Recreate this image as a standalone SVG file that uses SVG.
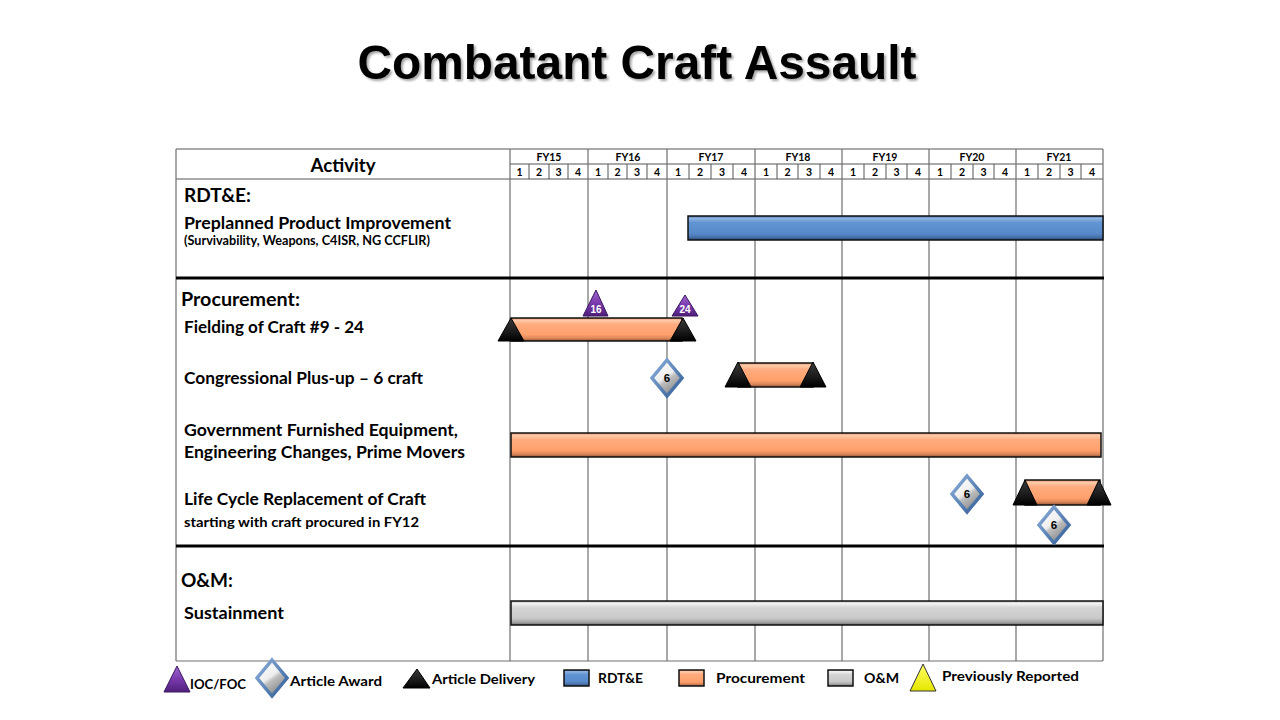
<svg xmlns="http://www.w3.org/2000/svg" width="1280" height="720" viewBox="0 0 1280 720">
<defs>
<style>
.t{font-family:"Lato","Liberation Sans",sans-serif;font-weight:bold;fill:#000}
.hd{font-size:10.5px;text-anchor:middle}
.sec{font-size:19px}
.act{font-size:17.5px}
.lg{font-size:14px}
.grid{stroke:#6f6f6f;stroke-width:1.2;fill:none}
.hline{stroke:#555;stroke-width:1;fill:none}
.thick{stroke:#000;stroke-width:3}
.bar{stroke:#111;stroke-width:1.5}
.blk{fill:url(#gBlack);stroke:#000;stroke-width:1}
.pur{fill:url(#gPurple);stroke:#3a1660;stroke-width:1}
.num{font-family:"Liberation Sans",sans-serif;font-weight:bold;font-size:10px;text-anchor:middle}
.dnum{font-family:"Liberation Sans",sans-serif;font-weight:bold;font-size:11.5px;text-anchor:middle;fill:#000}
</style>
<linearGradient id="gOrange" x1="0" y1="0" x2="0" y2="1">
<stop offset="0" stop-color="#e0906a"/><stop offset="0.1" stop-color="#ffcaa9"/><stop offset="0.28" stop-color="#ffab7e"/><stop offset="0.72" stop-color="#ffa06c"/><stop offset="0.88" stop-color="#dc875a"/><stop offset="1" stop-color="#8e5232"/>
</linearGradient>
<linearGradient id="gBlue" x1="0" y1="0" x2="0" y2="1">
<stop offset="0" stop-color="#4a79b3"/><stop offset="0.1" stop-color="#8fb3e0"/><stop offset="0.28" stop-color="#6194d2"/><stop offset="0.72" stop-color="#588acb"/><stop offset="0.88" stop-color="#4873aa"/><stop offset="1" stop-color="#2a4a74"/>
</linearGradient>
<linearGradient id="gGray" x1="0" y1="0" x2="0" y2="1">
<stop offset="0" stop-color="#b0b0b0"/><stop offset="0.1" stop-color="#f4f4f4"/><stop offset="0.28" stop-color="#d4d4d4"/><stop offset="0.72" stop-color="#c9c9c9"/><stop offset="0.88" stop-color="#a6a6a6"/><stop offset="1" stop-color="#6a6a6a"/>
</linearGradient>
<linearGradient id="gBlack" x1="0" y1="0" x2="0" y2="1">
<stop offset="0" stop-color="#3c3c3c"/><stop offset="0.6" stop-color="#1a1a1a"/><stop offset="1" stop-color="#000"/>
</linearGradient>
<linearGradient id="gPurple" x1="0" y1="0" x2="0" y2="1">
<stop offset="0" stop-color="#a06ad0"/><stop offset="0.5" stop-color="#7a3aae"/><stop offset="1" stop-color="#4f1f7a"/>
</linearGradient>
<linearGradient id="gYellow" x1="0" y1="0" x2="0" y2="1">
<stop offset="0" stop-color="#ffff66"/><stop offset="1" stop-color="#e6e600"/>
</linearGradient>
<linearGradient id="gDiaFill" x1="0.2" y1="0" x2="0.8" y2="1">
<stop offset="0" stop-color="#ffffff"/><stop offset="0.45" stop-color="#eeeeee"/><stop offset="0.55" stop-color="#bdbdbd"/><stop offset="1" stop-color="#7a7a7a"/>
</linearGradient>
<linearGradient id="gDiaStroke" x1="0" y1="0" x2="1" y2="1">
<stop offset="0" stop-color="#8fb1dc"/><stop offset="1" stop-color="#2f5c95"/>
</linearGradient>
<polygon id="dia" points="0,-18 15,0 0,18 -15,0" fill="url(#gDiaFill)" stroke="url(#gDiaStroke)" stroke-width="3.5" stroke-linejoin="miter"/>
<filter id="shadow" x="-5%" y="-20%" width="110%" height="150%">
<feDropShadow dx="2" dy="2" stdDeviation="1" flood-color="#000" flood-opacity="0.35"/>
</filter>
</defs>
<rect width="1280" height="720" fill="#fff"/>

<g id="title">
<text x="637" y="79" text-anchor="middle" font-family="'Liberation Sans',Arial,sans-serif" font-weight="bold" font-size="48" textLength="559" lengthAdjust="spacingAndGlyphs" filter="url(#shadow)">Combatant Craft Assault</text>
</g>

<g id="table">
<line class="hline" x1="176" y1="149" x2="1103" y2="149"/>
<line class="hline" x1="510" y1="164" x2="1103" y2="164"/>
<line class="hline" x1="176" y1="179" x2="1103" y2="179"/>
<line class="grid" x1="176" y1="149" x2="176" y2="661"/>
<line class="grid" x1="1103" y1="149" x2="1103" y2="661"/>
<line class="grid" x1="176" y1="661" x2="1103" y2="661"/>
<g class="grid">
<line x1="510" y1="149" x2="510" y2="661"/>
<line x1="588" y1="149" x2="588" y2="661"/>
<line x1="667" y1="149" x2="667" y2="661"/>
<line x1="755" y1="149" x2="755" y2="661"/>
<line x1="842" y1="149" x2="842" y2="661"/>
<line x1="929" y1="149" x2="929" y2="661"/>
<line x1="1016" y1="149" x2="1016" y2="661"/>
</g>
<g class="hline">
<line x1="529" y1="164" x2="529" y2="179"/><line x1="549" y1="164" x2="549" y2="179"/><line x1="568" y1="164" x2="568" y2="179"/>
<line x1="608" y1="164" x2="608" y2="179"/><line x1="627" y1="164" x2="627" y2="179"/><line x1="647" y1="164" x2="647" y2="179"/>
<line x1="689" y1="164" x2="689" y2="179"/><line x1="711" y1="164" x2="711" y2="179"/><line x1="733" y1="164" x2="733" y2="179"/>
<line x1="777" y1="164" x2="777" y2="179"/><line x1="798" y1="164" x2="798" y2="179"/><line x1="820" y1="164" x2="820" y2="179"/>
<line x1="864" y1="164" x2="864" y2="179"/><line x1="886" y1="164" x2="886" y2="179"/><line x1="907" y1="164" x2="907" y2="179"/>
<line x1="951" y1="164" x2="951" y2="179"/><line x1="973" y1="164" x2="973" y2="179"/><line x1="994" y1="164" x2="994" y2="179"/>
<line x1="1038" y1="164" x2="1038" y2="179"/><line x1="1060" y1="164" x2="1060" y2="179"/><line x1="1081" y1="164" x2="1081" y2="179"/>
</g>
<text class="t" x="343" y="172" text-anchor="middle" font-size="19" textLength="65" lengthAdjust="spacingAndGlyphs">Activity</text>
<g class="t hd">
<text x="549" y="161">FY15</text><text x="628" y="161">FY16</text><text x="711" y="161">FY17</text><text x="798" y="161">FY18</text><text x="885" y="161">FY19</text><text x="972" y="161">FY20</text><text x="1059" y="161">FY21</text>
</g>
<g class="t hd">
<text x="519.5" y="176">1</text><text x="539" y="176">2</text><text x="558.5" y="176">3</text><text x="578" y="176">4</text>
<text x="598" y="176">1</text><text x="617.5" y="176">2</text><text x="637" y="176">3</text><text x="657" y="176">4</text>
<text x="678" y="176">1</text><text x="700" y="176">2</text><text x="722" y="176">3</text><text x="744" y="176">4</text>
<text x="766" y="176">1</text><text x="787.5" y="176">2</text><text x="809" y="176">3</text><text x="831" y="176">4</text>
<text x="853" y="176">1</text><text x="875" y="176">2</text><text x="896.5" y="176">3</text><text x="918" y="176">4</text>
<text x="940" y="176">1</text><text x="962" y="176">2</text><text x="983.5" y="176">3</text><text x="1005" y="176">4</text>
<text x="1027" y="176">1</text><text x="1049" y="176">2</text><text x="1070.5" y="176">3</text><text x="1092" y="176">4</text>
</g>
<line class="thick" x1="176" y1="278" x2="1104" y2="278"/>
<line class="thick" x1="176" y1="546" x2="1104" y2="546"/>
</g>

<g id="row-rdte">
<text class="t sec" x="184" y="202" textLength="67" lengthAdjust="spacingAndGlyphs">RDT&amp;E:</text>
<text class="t act" x="184" y="229" textLength="267" lengthAdjust="spacingAndGlyphs">Preplanned Product Improvement</text>
<text class="t" x="184" y="245" font-size="12.5" textLength="246" lengthAdjust="spacingAndGlyphs">(Survivability, Weapons, C4ISR, NG CCFLIR)</text>
<rect class="bar" x="688" y="216" width="415" height="24" fill="url(#gBlue)"/>
</g>

<g id="row-procurement">
<text class="t sec" x="181" y="306" textLength="119" lengthAdjust="spacingAndGlyphs">Procurement:</text>
</g>

<g id="row-fielding">
<text class="t act" x="184" y="333" textLength="180" lengthAdjust="spacingAndGlyphs">Fielding of Craft #9 - 24</text>
<rect class="bar" x="511" y="318" width="171" height="23" fill="url(#gOrange)"/>
<polygon class="blk" points="511,318 524,341 498,341"/>
<polygon class="blk" points="683,318 696,341 670,341"/>
<polygon class="pur" points="596,290 608,316 583,316"/>
<text class="num" x="596" y="313" fill="#fff">16</text>
<polygon class="pur" points="685,295 698,316 672,316"/>
<text class="num" x="685" y="313" fill="#fff">24</text>
</g>

<g id="row-congressional">
<text class="t act" x="184" y="384" textLength="239" lengthAdjust="spacingAndGlyphs">Congressional Plus-up – 6 craft</text>
<rect class="bar" x="738" y="363" width="75" height="24" fill="url(#gOrange)"/>
<polygon class="blk" points="738,362 751,387 725,387"/>
<polygon class="blk" points="813,362 826,387 800,387"/>
<use href="#dia" x="667" y="378"/>
<text class="dnum" x="667" y="382">6</text>
</g>

<g id="row-gfe">
<text class="t act" x="184" y="436" textLength="274" lengthAdjust="spacingAndGlyphs">Government Furnished Equipment,</text>
<text class="t act" x="184" y="458" textLength="281" lengthAdjust="spacingAndGlyphs">Engineering Changes, Prime Movers</text>
<rect class="bar" x="511" y="433" width="590" height="24" fill="url(#gOrange)"/>
</g>

<g id="row-lifecycle">
<text class="t act" x="184" y="505" textLength="242" lengthAdjust="spacingAndGlyphs">Life Cycle Replacement of Craft</text>
<text class="t" x="184" y="527" font-size="13" textLength="235" lengthAdjust="spacingAndGlyphs">starting with craft procured in FY12</text>
<rect class="bar" x="1025" y="480" width="75" height="25" fill="url(#gOrange)"/>
<polygon class="blk" points="1025,480 1037,505 1013,505"/>
<polygon class="blk" points="1099,480 1111,505 1087,505"/>
<use href="#dia" x="967" y="494"/>
<text class="dnum" x="967" y="498">6</text>
<use href="#dia" x="1054" y="525"/>
<text class="dnum" x="1054" y="529">6</text>
</g>

<g id="row-om">
<text class="t sec" x="181" y="587" textLength="52" lengthAdjust="spacingAndGlyphs">O&amp;M:</text>
<text class="t act" x="184" y="619" textLength="100" lengthAdjust="spacingAndGlyphs">Sustainment</text>
<rect class="bar" x="511" y="601" width="592" height="24" fill="url(#gGray)"/>
</g>

<g id="legend">
<polygon class="pur" points="177,666 190,692 164,692"/>
<text class="t lg" x="190" y="689" textLength="56" lengthAdjust="spacingAndGlyphs">IOC/FOC</text>
<use href="#dia" x="272" y="678"/>
<text class="t lg" x="290" y="686" textLength="92" lengthAdjust="spacingAndGlyphs">Article Award</text>
<polygon class="blk" points="417,669 430,688 403,688"/>
<text class="t lg" x="432" y="684" textLength="103" lengthAdjust="spacingAndGlyphs">Article Delivery</text>
<rect class="bar" x="564" y="670" width="25" height="16" fill="url(#gBlue)" stroke-width="1"/>
<text class="t lg" x="598" y="683" textLength="45" lengthAdjust="spacingAndGlyphs">RDT&amp;E</text>
<rect class="bar" x="679" y="670" width="25" height="16" fill="url(#gOrange)" stroke-width="1"/>
<text class="t lg" x="716" y="683" textLength="89" lengthAdjust="spacingAndGlyphs">Procurement</text>
<rect class="bar" x="828" y="670" width="25" height="16" fill="url(#gGray)" stroke-width="1"/>
<text class="t lg" x="864" y="683" textLength="35" lengthAdjust="spacingAndGlyphs">O&amp;M</text>
<polygon points="923,664 936,691 910,691" fill="url(#gYellow)" stroke="#333" stroke-width="1"/>
<text class="t lg" x="942" y="681" textLength="137" lengthAdjust="spacingAndGlyphs">Previously Reported</text>
</g>
</svg>
